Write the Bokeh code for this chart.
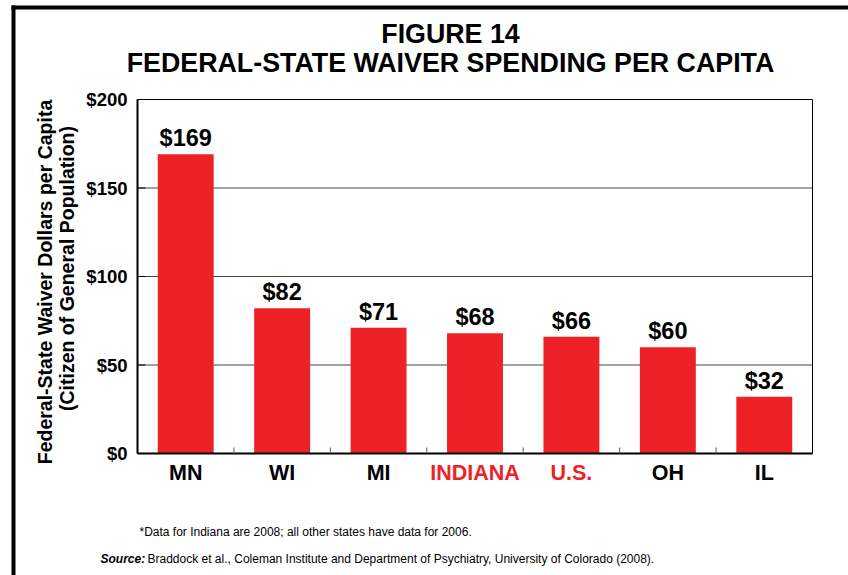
import math
from bokeh.plotting import figure
from bokeh.models import ColumnDataSource, LabelSet, Label, Range1d
from bokeh.core.properties import value
from bokeh.embed import file_html
from bokeh.resources import INLINE

# ---- data ----
states = ["MN", "WI", "MI", "INDIANA", "U.S.", "OH", "IL"]
spending = [169, 82, 71, 68, 66, 60, 32]
highlighted = ["INDIANA", "U.S."]
y_ticks = [0, 50, 100, 150, 200]
y_tick_labels = ["$0", "$50", "$100", "$150", "$200"]

title_lines = ["FIGURE 14", "FEDERAL-STATE WAIVER SPENDING PER CAPITA"]
y_title_lines = ["Federal-State Waiver Dollars per Capita", "(Citizen of General Population)"]
footnote = "*Data for Indiana are 2008; all other states have data for 2006."
source_label = "Source:"
source_text = "Braddock et al., Coleman Institute and Department of Psychiatry, University of Colorado (2008)."

# ---- layout (pixel geometry of the chart box on the page) ----
FONT = "Liberation Sans"
RED = "#EE2226"
W, H = 848, 575
BOX_L, BOX_R, BOX_T, BOX_B = 137, 812, 99, 453
n = len(states)
ymax = y_ticks[-1]
PPX = (BOX_R - BOX_L) / n       # pixels per category
PPY = (BOX_B - BOX_T) / ymax    # pixels per dollar


def dx(px):
    return (px - BOX_L) / PPX


def dy(py):
    return (BOX_B - py) / PPY


p = figure(width=W, height=H, x_range=Range1d(dx(0), dx(W)), y_range=Range1d(dy(H), dy(0)),
           output_backend="svg", toolbar_location=None, min_border=0)
p.axis.visible = False
p.grid.visible = False
p.outline_line_color = None
p.background_fill_color = "white"
p.border_fill_color = "white"

xs = [i + 0.5 for i in range(n)]
src = ColumnDataSource(dict(
    x=xs, state=states, value=spending,
    label=[f"${v}" for v in spending],
    color=[RED if s in highlighted else "black" for s in states],
))

# grid lines
grid_vals = y_ticks[1:-1]
p.segment(x0=[0] * len(grid_vals), x1=[n] * len(grid_vals), y0=grid_vals, y1=grid_vals,
          line_color="#444444", line_width=1)

# bars
p.vbar(x="x", top="value", bottom=0, width=0.58, source=src, fill_color=RED, line_color=None)

# chart box: thin top/right, thick left/bottom axis lines
p.segment(x0=[0, n], x1=[n, n], y0=[ymax, 0], y1=[ymax, ymax], line_color="black", line_width=1)
p.segment(x0=[0, 0], x1=[0, n], y0=[0, 0], y1=[ymax, 0], line_color="black", line_width=2)

# y ticks (inward)
p.segment(x0=[0] * len(y_ticks), x1=[8 / PPX] * len(y_ticks), y0=y_ticks, y1=y_ticks,
          line_color="black", line_width=1)
# x ticks at category boundaries (inward)
bnd = list(range(1, n))
p.segment(x0=bnd, x1=bnd, y0=[0] * len(bnd), y1=[6 / PPY] * len(bnd),
          line_color="#555555", line_width=1)

# y tick labels
p.text(x=[dx(127)] * len(y_ticks), y=y_ticks, text=y_tick_labels, text_align="right",
       text_baseline="middle", text_font=value(FONT), text_font_style="bold",
       text_font_size="18.5px", text_color="black")

# value labels (white box so gridlines are broken behind them)
p.add_layout(LabelSet(x="x", y="value", text="label", source=src, y_offset=8,
                      text_align="center", text_baseline="alphabetic",
                      text_font=value(FONT), text_font_style="bold", text_font_size="23.5px",
                      text_color="black", background_fill_color="white"))

# category labels
p.text(x="x", y=dy(472.5), text="state", source=src, text_align="center",
       text_baseline="middle", text_font=value(FONT), text_font_style="bold",
       text_font_size="21.5px", text_color="color")

# titles
for txt, py in zip(title_lines, [33, 62]):
    p.add_layout(Label(x=dx(450), y=dy(py), text=txt, text_align="center",
                       text_baseline="middle", text_font=FONT, text_font_style="bold",
                       text_font_size="26.8px", text_color="black"))

# y-axis title (rotated)
for txt, (px, py) in zip(y_title_lines, [(44.5, 281.5), (66, 268)]):
    p.add_layout(Label(x=dx(px), y=dy(py), text=txt, angle=math.pi / 2,
                       text_align="center", text_baseline="middle", text_font=FONT,
                       text_font_style="bold", text_font_size="19.5px", text_color="black"))

# footnotes
p.add_layout(Label(x=dx(139), y=dy(531), text=footnote, text_align="left",
                   text_baseline="middle", text_font=FONT, text_font_size="12px",
                   text_color="black"))
p.add_layout(Label(x=dx(100), y=dy(558), text=source_label, text_align="left",
                   text_baseline="middle", text_font=FONT, text_font_style="bold italic",
                   text_font_size="12px", text_color="black"))
p.add_layout(Label(x=dx(147), y=dy(558), text=source_text, text_align="left",
                   text_baseline="middle", text_font=FONT, text_font_size="12px",
                   text_color="black"))

# page border (thick top and left lines)
p.quad(left=[dx(11), dx(11)], right=[dx(W), dx(15)], top=[dy(5), dy(5)], bottom=[dy(9), dy(H)],
       fill_color="black", line_color=None)

open("out.html", "w").write(file_html(p, INLINE))
